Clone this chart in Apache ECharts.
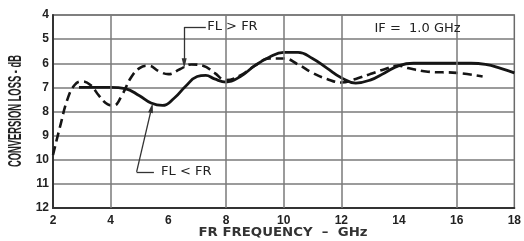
<!DOCTYPE html>
<html><head><meta charset="utf-8">
<style>html,body{margin:0;padding:0;background:#fff}#c{width:524px;height:241px}</style>
<script src="https://cdn.jsdelivr.net/npm/echarts@6/dist/echarts.min.js"></script>
</head><body><div id="c"></div>
<script>
// ---- data ----
const xTicks = [2, 4, 6, 8, 10, 12, 14, 16, 18];
const yTicks = [4, 5, 6, 7, 8, 9, 10, 11, 12];
const verticalGridAt = [4, 8, 10, 12, 16];
// FL > FR (dashed)
const dashedFreq = [2.0, 2.25, 2.5, 2.75, 3.0, 3.3, 3.6, 3.9, 4.1, 4.4, 4.7, 5.0, 5.3, 5.7, 6.0, 6.4, 6.8, 7.2, 7.6, 8.0, 8.5, 9.0, 9.5, 10.0, 10.5, 11.0, 11.5, 12.0, 12.5, 13.0, 13.5, 14.0, 14.3, 15.0, 16.0, 16.9];
const dashedLoss = [9.8, 8.6, 7.5, 6.9, 6.75, 6.9, 7.35, 7.7, 7.75, 7.3, 6.6, 6.2, 6.1, 6.35, 6.45, 6.25, 6.05, 6.1, 6.4, 6.7, 6.5, 6.1, 5.8, 5.8, 6.05, 6.4, 6.65, 6.8, 6.65, 6.45, 6.25, 6.1, 6.2, 6.35, 6.4, 6.55];
// FL < FR (solid)
const solidFreq = [2.9, 3.5, 4.0, 4.5, 5.0, 5.4, 5.8, 6.2, 6.6, 7.0, 7.3, 7.6, 8.0, 8.5, 9.0, 9.5, 10.0, 10.5, 11.0, 11.5, 12.0, 12.5, 13.0, 13.5, 14.0, 14.5, 15.5, 16.5, 17.0, 17.5, 18.0];
const solidLoss = [7.0, 7.0, 7.0, 7.05, 7.35, 7.65, 7.75, 7.45, 6.95, 6.55, 6.5, 6.65, 6.78, 6.55, 6.1, 5.75, 5.55, 5.55, 5.8, 6.2, 6.6, 6.82, 6.7, 6.4, 6.1, 6.0, 6.0, 6.0, 6.05, 6.2, 6.4];
const texts = { ifLabel: 'IF =  1.0 GHz', upper: 'FL > FR', lower: 'FL < FR', xTitle: 'FR FREQUENCY  –  GHz', yTitle: 'CONVERSION LOSS - dB' };

const zip = (a, b) => a.map((v, i) => [v, b[i]]);
const chart = echarts.init(document.getElementById('c'), null, { renderer: 'canvas' });
const gridColor = '#7a7a7a';
const ink = '#151515';
const tickFont = { fontFamily: 'Liberation Sans', fontWeight: 'bold', fontSize: 12, color: '#222' };

function fitScale(text, font, target) {
  const ctx = document.createElement('canvas').getContext('2d');
  ctx.font = font;
  return target / ctx.measureText(text).width;
}
const yFont = 'bold 19px "Liberation Sans"';
const ySc = fitScale(texts.yTitle, yFont, 112);
const xFont = 'bold 12px "DejaVu Sans"';
const xSc = fitScale(texts.xTitle, xFont, 169);

chart.setOption({
  animation: false,
  backgroundColor: '#fff',
  grid: { left: 53, right: 7, top: 15, bottom: 33, show: true, borderColor: '#6a6a6a', borderWidth: 1.5 },
  xAxis: {
    type: 'value', min: 2, max: 18, interval: 2,
    axisLine: { show: true, onZero: false, lineStyle: { color: '#333', width: 2 } },
    axisTick: { show: false },
    splitLine: { show: false },
    axisLabel: Object.assign({ margin: 7 }, tickFont)
  },
  yAxis: {
    type: 'value', min: 4, max: 12, interval: 1, inverse: true,
    axisLine: { show: true, lineStyle: { color: '#333', width: 2 } },
    axisTick: { show: false },
    splitLine: { show: true, lineStyle: { color: gridColor, width: 1.5 } },
    axisLabel: Object.assign({ margin: 4 }, tickFont)
  },
  series: [
    {
      type: 'line', data: zip(dashedFreq, dashedLoss), smooth: 0.45, symbol: 'none',
      lineStyle: { color: ink, width: 2.6, type: [9, 5] },
      markLine: {
        silent: true, symbol: 'none', label: { show: false },
        lineStyle: { color: gridColor, width: 1.5, type: 'solid' },
        data: verticalGridAt.map(v => ({ xAxis: v }))
      },
      z: 3
    },
    {
      type: 'line', data: zip(solidFreq, solidLoss), smooth: 0.45, symbol: 'none',
      lineStyle: { color: ink, width: 2.8 },
      markLine: {
        silent: true, symbolSize: [5, 10], label: { show: false },
        lineStyle: { color: '#333', width: 1.3, type: 'solid' },
        data: [
          [{ coord: [7.3, 4.5], symbol: 'none' }, { coord: [6.55, 4.5], symbol: 'none' }],
          [{ coord: [6.55, 4.5], symbol: 'none' }, { coord: [6.55, 6.0], symbol: 'triangle' }],
          [{ coord: [5.5, 10.5], symbol: 'none' }, { coord: [4.9, 10.5], symbol: 'none' }],
          [{ coord: [4.9, 10.5], symbol: 'none' }, { coord: [5.42, 7.85], symbol: 'triangle' }]
        ]
      },
      markPoint: {
        silent: true, symbol: 'circle', symbolSize: 0,
        label: { show: true, position: 'right', distance: 0, fontFamily: 'DejaVu Sans', fontSize: 13, color: '#222' },
        data: [
          { coord: [7.35, 4.5], label: { formatter: texts.upper } },
          { coord: [5.75, 10.5], label: { formatter: texts.lower } },
          { coord: [13.15, 4.55], label: { formatter: texts.ifLabel } }
        ]
      },
      z: 4
    }
  ],
  graphic: [
    { type: 'text', x: 16, y: 111, rotation: Math.PI / 2, scaleX: ySc,
      style: { text: texts.yTitle, font: yFont, fill: '#222', align: 'center', verticalAlign: 'middle' } },
    { type: 'text', x: 283, y: 233, scaleX: xSc,
      style: { text: texts.xTitle, font: xFont, fill: '#333', align: 'center', verticalAlign: 'middle' } }
  ]
});
</script></body></html>
